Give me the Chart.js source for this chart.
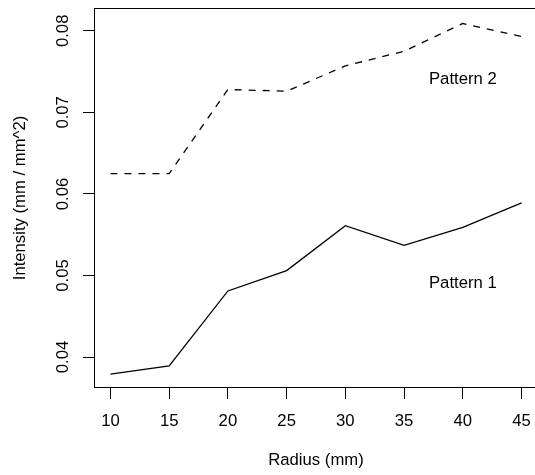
<!DOCTYPE html>
<html>
<head>
<meta charset="utf-8">
<script src="https://cdn.jsdelivr.net/npm/chart.js@4/dist/chart.umd.min.js"></script>
<style>
  html, body { margin: 0; padding: 0; background: #fff; overflow: hidden; }
  canvas { display: block; }
</style>
</head>
<body>
<canvas id="chart" width="545" height="475"></canvas>
<script>
// Intensity per radius for the two point patterns
const radius   = [10, 15, 20, 25, 30, 35, 40, 45];
const pattern1 = [0.0379, 0.0389, 0.0481, 0.0506, 0.0561, 0.0537, 0.0559, 0.0589];
const pattern2 = [0.0625, 0.0625, 0.0728, 0.0726, 0.0757, 0.0775, 0.0809, 0.0793];

// Axis ticks
const xTicks = [10, 15, 20, 25, 30, 35, 40, 45];
const yTicks = [0.04, 0.05, 0.06, 0.07, 0.08];

// In-plot series labels (data coordinates)
const seriesNames = ['Pattern 1', 'Pattern 2'];
const nameX = [40, 40];
const nameY = [0.049, 0.074];

const FONT = '"Liberation Sans", Arial, Helvetica, sans-serif';
const FSIZE = 16.7;

const toPoints = ys => radius.map((x, i) => ({ x, y: ys[i] }));

// Frame, rotated y labels, y title and series names
const basePlotDecor = {
  id: 'basePlotDecor',
  afterDraw(chart) {
    const { ctx, chartArea: a, scales } = chart;
    ctx.save();
    ctx.strokeStyle = '#000';
    ctx.lineWidth = 1;
    ctx.strokeRect(a.left + 0.5, a.top + 0.5, a.right - a.left, a.bottom - a.top - 1);

    ctx.fillStyle = '#000';
    ctx.font = `${FSIZE}px ${FONT}`;
    ctx.textAlign = 'center';
    ctx.textBaseline = 'middle';

    yTicks.forEach(v => {
      const py = scales.y.getPixelForValue(v);
      ctx.save();
      ctx.translate(63, py);
      ctx.rotate(-Math.PI / 2);
      ctx.fillText(v.toFixed(2), 0, 0);
      ctx.restore();
    });

    ctx.save();
    ctx.translate(20, (a.top + a.bottom) / 2);
    ctx.rotate(-Math.PI / 2);
    ctx.fillText('Intensity (mm / mm^2)', 0, 0);
    ctx.restore();

    seriesNames.forEach((name, i) => {
      ctx.fillText(name, scales.x.getPixelForValue(nameX[i]), scales.y.getPixelForValue(nameY[i]));
    });
    ctx.restore();
  }
};

new Chart(document.getElementById('chart'), {
  type: 'line',
  data: {
    datasets: [
      {
        label: seriesNames[0],
        data: toPoints(pattern1),
        borderColor: '#000',
        borderWidth: 1.3,
        pointRadius: 0,
        tension: 0,
        fill: false
      },
      {
        label: seriesNames[1],
        data: toPoints(pattern2),
        borderColor: '#000',
        borderWidth: 1.3,
        borderDash: [7, 7],
        pointRadius: 0,
        tension: 0,
        fill: false
      }
    ]
  },
  options: {
    responsive: false,
    animation: false,
    events: [],
    layout: { padding: { top: 8, right: 7, left: 0, bottom: 0 } },
    plugins: {
      legend: { display: false },
      tooltip: { enabled: false }
    },
    scales: {
      x: {
        type: 'linear',
        min: 8.6,
        max: 46.4,
        afterBuildTicks: s => { s.ticks = xTicks.map(v => ({ value: v })); },
        afterFit: s => { s.height = 87; },
        border: { display: false },
        grid: { drawOnChartArea: false, drawTicks: true, tickLength: 11, color: '#000', lineWidth: 1 },
        ticks: {
          color: '#000',
          font: { family: FONT, size: FSIZE },
          padding: 12,
          maxRotation: 0,
          autoSkip: false,
          callback: v => String(v)
        },
        title: {
          display: true,
          text: 'Radius (mm)',
          color: '#000',
          font: { family: FONT, size: FSIZE },
          padding: { top: 0, bottom: 5 }
        }
      },
      y: {
        type: 'linear',
        min: 0.0362,
        max: 0.0828,
        afterBuildTicks: s => { s.ticks = yTicks.map(v => ({ value: v })); },
        afterFit: s => { s.width = 94; },
        border: { display: false },
        grid: { drawOnChartArea: false, drawTicks: true, tickLength: 11, color: '#000', lineWidth: 1 },
        ticks: { display: false }
      }
    }
  },
  plugins: [basePlotDecor]
});
</script>
</body>
</html>
